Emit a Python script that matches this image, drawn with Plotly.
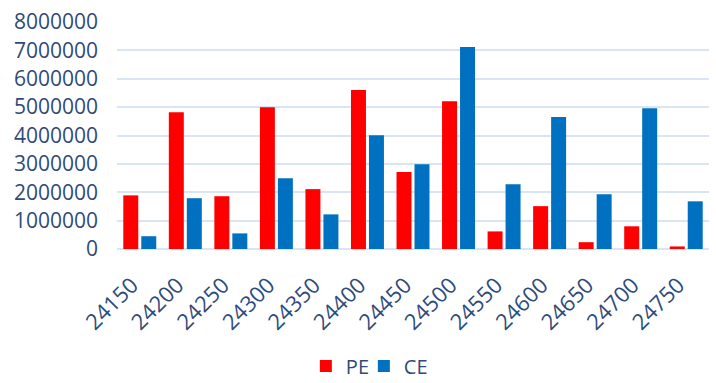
import plotly.graph_objects as go

strikes = ["24150", "24200", "24250", "24300", "24350", "24400", "24450",
           "24500", "24550", "24600", "24650", "24700", "24750"]
pe_values = [1890000, 4820000, 1860000, 5000000, 2110000, 5600000, 2710000,
             5210000, 620000, 1510000, 240000, 800000, 90000]
ce_values = [450000, 1790000, 550000, 2490000, 1220000, 4010000, 2990000,
             7120000, 2280000, 4650000, 1930000, 4960000, 1680000]
y_ticks = [0, 1000000, 2000000, 3000000, 4000000, 5000000, 6000000, 7000000, 8000000]

text_color = "#2E4B7B"
grid_color = "#D9E4F5"
font_family = "Open Sans, DejaVu Sans, sans-serif"

fig = go.Figure()
fig.add_trace(go.Bar(name="PE", x=strikes, y=pe_values, marker_color="#FF0000",
                     marker_line_width=0))
fig.add_trace(go.Bar(name="CE", x=strikes, y=ce_values, marker_color="#0070C0",
                     marker_line_width=0))
# invisible spacer entry so the last legend label is not clipped
fig.add_trace(go.Scatter(name=" ", x=[None], y=[None], mode="markers",
                         marker=dict(color="rgba(0,0,0,0)"), hoverinfo="skip"))

fig.update_layout(
    width=716, height=383,
    margin=dict(l=117, r=7, t=22, b=134, autoexpand=False),
    paper_bgcolor="white", plot_bgcolor="white",
    barmode="group", bargap=0.21, bargroupgap=0.167,
    font=dict(family=font_family, size=20, color=text_color),
    showlegend=True,
    legend=dict(orientation="h", x=0.319, xanchor="left", y=-0.515, yanchor="middle",
                font=dict(size=20, color=text_color), entrywidth=13,
                entrywidthmode="pixels", itemwidth=30),
)
fig.update_xaxes(type="category", tickangle=-45, showgrid=False, showline=False,
                 automargin=False, ticks="", ticklabelstandoff=18, ticklabelshift=-8,
                 tickfont=dict(size=22, color=text_color))
fig.update_yaxes(range=[0, 8000000], tickvals=y_ticks,
                 ticktext=[str(v) for v in y_ticks], automargin=False,
                 showgrid=True, gridcolor=grid_color, gridwidth=2,
                 zeroline=True, zerolinecolor=grid_color, zerolinewidth=2,
                 showline=False, ticks="", ticklabelstandoff=18,
                 tickfont=dict(size=21, color=text_color))

fig.write_html("out.html")
